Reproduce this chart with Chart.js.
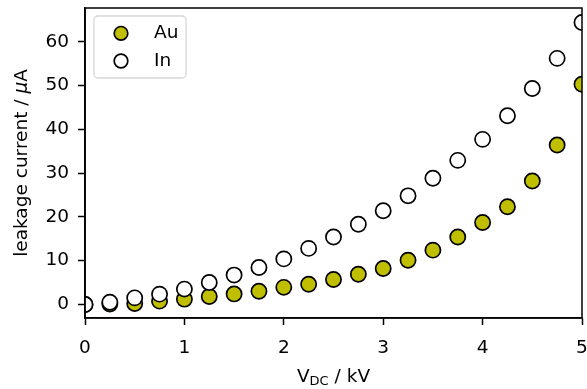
<!DOCTYPE html>
<html>
<head>
<meta charset="utf-8">
<script src="https://cdn.jsdelivr.net/npm/chart.js@4/dist/chart.umd.min.js"></script>
<style>
html,body{margin:0;padding:0;background:#fff;}
#wrap{width:587px;height:389px;position:relative;}
</style>
</head>
<body>
<div id="wrap"><canvas id="c" width="587" height="389"></canvas></div>
<script>
const voltages = [0,0.25,0.5,0.75,1,1.25,1.5,1.75,2,2.25,2.5,2.75,3,3.25,3.5,3.75,4,4.25,4.5,4.75,5];
const auCurrent = [0,0.1,0.2,0.75,1.2,1.8,2.4,3.0,3.9,4.6,5.7,6.9,8.2,10.1,12.4,15.4,18.7,22.3,28.2,36.4,50.3];
const inCurrent = [0,0.5,1.5,2.35,3.5,5.0,6.7,8.45,10.4,12.8,15.4,18.3,21.4,24.8,28.8,32.9,37.7,43.1,49.3,56.2,64.4];
const xTickValues = [0,1,2,3,4,5];
const yTickValues = [0,10,20,30,40,50,60];
const seriesLabels = ['Au','In'];
const xTitleParts = ['V','DC',' / kV'];
const yTitleParts = ['leakage current / ','μ','A'];

const FONT = '"DejaVu Sans", sans-serif';
const FS = 18.5;
const AU_COLOR = '#bfbf00';

const framePlugin = {
  id: 'frame',
  afterDraw(chart) {
    const {ctx, chartArea: a, width: W, height: H} = chart;
    // hide the parts of the edge markers that fall outside the plot area, then redraw the axes
    ctx.save();
    ctx.fillStyle = '#ffffff';
    ctx.fillRect(0, 0, W, a.top);
    ctx.fillRect(0, a.bottom, W, H - a.bottom);
    ctx.fillRect(0, 0, a.left, H);
    ctx.fillRect(a.right, 0, W - a.right, H);
    ctx.restore();
    chart.scales.x.draw(a);
    chart.scales.y.draw(a);

    ctx.save();
    ctx.strokeStyle = '#000';
    ctx.lineWidth = 1.5;
    ctx.strokeRect(a.left, a.top, a.right - a.left, a.bottom - a.top);
    // x title with subscript
    ctx.fillStyle = '#000';
    ctx.textBaseline = 'alphabetic';
    const big = FS + 'px ' + FONT, small = '13px ' + FONT;
    ctx.font = big; const w1 = ctx.measureText(xTitleParts[0]).width;
    ctx.font = small; const w2 = ctx.measureText(xTitleParts[1]).width;
    ctx.font = big; const w3 = ctx.measureText(xTitleParts[2]).width;
    let x = (a.left + a.right) / 2 - (w1 + w2 + w3) / 2;
    const by = 381.5;
    ctx.font = big; ctx.textAlign = 'left';
    ctx.fillText(xTitleParts[0], x, by); x += w1;
    ctx.font = small; ctx.fillText(xTitleParts[1], x, by + 3.5); x += w2;
    ctx.font = big; ctx.fillText(xTitleParts[2], x, by);
    // y title rotated
    ctx.save();
    ctx.translate(27, (a.top + a.bottom) / 2);
    ctx.rotate(-Math.PI / 2);
    const fN = FS + 'px ' + FONT, fI = 'oblique ' + FS + 'px ' + FONT;
    ctx.font = fN; const t1 = ctx.measureText(yTitleParts[0]).width;
    ctx.font = fI; const t2 = ctx.measureText(yTitleParts[1]).width;
    ctx.font = fN; const t3 = ctx.measureText(yTitleParts[2]).width;
    let yx = -(t1 + t2 + t3) / 2;
    ctx.font = fN; ctx.fillText(yTitleParts[0], yx, 0); yx += t1;
    ctx.font = fI; ctx.fillText(yTitleParts[1], yx, 0); yx += t2;
    ctx.font = fN; ctx.fillText(yTitleParts[2], yx, 0);
    ctx.restore();
    // legend
    const lx = 94, ly = 16, lw = 92, lh = 62, r = 4;
    ctx.beginPath();
    ctx.moveTo(lx + r, ly);
    ctx.arcTo(lx + lw, ly, lx + lw, ly + lh, r);
    ctx.arcTo(lx + lw, ly + lh, lx, ly + lh, r);
    ctx.arcTo(lx, ly + lh, lx, ly, r);
    ctx.arcTo(lx, ly, lx + lw, ly, r);
    ctx.closePath();
    ctx.fillStyle = 'rgba(255,255,255,0.8)';
    ctx.fill();
    ctx.strokeStyle = '#d6d6d6';
    ctx.lineWidth = 1.3;
    ctx.stroke();
    const order = [1, 0];
    order.forEach((di, i) => {
      const ds = chart.data.datasets[di];
      const cy = 33.3 + i * 27.7;
      ctx.beginPath();
      ctx.arc(121, cy, 6.8, 0, Math.PI * 2);
      ctx.fillStyle = ds.backgroundColor;
      ctx.fill();
      ctx.lineWidth = 1.7;
      ctx.strokeStyle = '#000';
      ctx.stroke();
      ctx.fillStyle = '#000';
      ctx.font = FS + 'px ' + FONT;
      ctx.textBaseline = 'middle';
      ctx.fillText(ds.label, 154, cy);
    });
    ctx.restore();
  }
};

const commonDs = {borderColor: '#000000', borderWidth: 1.7, pointRadius: 7.6, pointHoverRadius: 7.6, clip: 0};

new Chart(document.getElementById('c'), {
  type: 'scatter',
  data: {
    datasets: [
      Object.assign({
        label: seriesLabels[1],
        data: voltages.map((v, i) => ({x: v, y: inCurrent[i]})),
        backgroundColor: '#ffffff'
      }, commonDs),
      Object.assign({
        label: seriesLabels[0],
        data: voltages.map((v, i) => ({x: v, y: auCurrent[i]})),
        backgroundColor: AU_COLOR
      }, commonDs)
    ]
  },
  options: {
    responsive: false,
    animation: false,
    devicePixelRatio: 1,
    layout: {autoPadding: false, padding: {left: 0, right: 5, top: 8, bottom: 0}},
    plugins: {legend: {display: false}, tooltip: {enabled: false}},
    scales: {
      x: {
        type: 'linear', min: 0, max: 5,
        afterBuildTicks(s) { s.ticks = xTickValues.map(v => ({value: v})); },
        afterFit(s) { s.height = 71; s.paddingLeft = 0; s.paddingRight = 0; },
        ticks: {font: {family: FONT, size: FS}, color: '#000', padding: 12, maxRotation: 0},
        grid: {drawOnChartArea: false, drawTicks: true, tickLength: 7, tickColor: '#000', tickWidth: 1.5},
        border: {display: true, color: '#000', width: 1.5}
      },
      y: {
        type: 'linear', min: -3.1, max: 67.7,
        afterBuildTicks(s) { s.ticks = yTickValues.map(v => ({value: v})); },
        afterFit(s) { s.width = 85; s.paddingTop = 0; s.paddingBottom = 0; },
        ticks: {font: {family: FONT, size: FS}, color: '#000', padding: 9},
        grid: {drawOnChartArea: false, drawTicks: true, tickLength: 7, tickColor: '#000', tickWidth: 1.5},
        border: {display: true, color: '#000', width: 1.5}
      }
    }
  },
  plugins: [framePlugin]
});
</script>
</body>
</html>
